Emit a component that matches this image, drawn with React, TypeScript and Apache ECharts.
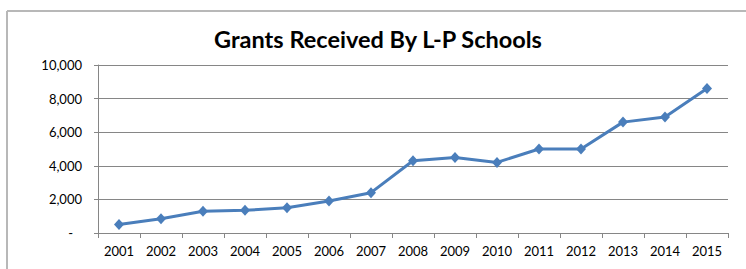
import React, { useEffect, useRef } from "react";
import * as echarts from "echarts";

const years = ["2001","2002","2003","2004","2005","2006","2007","2008","2009","2010","2011","2012","2013","2014","2015"];
const grants = [500, 850, 1300, 1350, 1500, 1900, 2400, 4300, 4500, 4200, 5000, 5000, 6600, 6900, 8600];
const yTicks = { min: 0, max: 10000, interval: 2000 };
const titleText = "Grants Received By L-P Schools";

export default function App() {
  const ref = useRef<HTMLDivElement>(null);
  useEffect(() => {
    if (!ref.current) return;
    const chart = echarts.init(ref.current, undefined, { renderer: "svg" });
    chart.setOption({
      animation: false,
      backgroundColor: "#ffffff",
      grid: { left: 98, right: 18, top: 65, bottom: 36, containLabel: false },
      graphic: [
        { type: "line", shape: { x1: 7, y1: 11, x2: 746, y2: 11 }, style: { stroke: "#b8b8b8", lineWidth: 2 } },
        { type: "line", shape: { x1: 7, y1: 11, x2: 7, y2: 269 }, style: { stroke: "#b8b8b8", lineWidth: 2 } },
        {
          type: "text",
          x: 378,
          y: 39,
          style: {
            text: titleText,
            fontFamily: "Lato",
            fontWeight: "bold",
            fontSize: 23.5,
            fill: "#000000",
            textAlign: "center",
            textVerticalAlign: "middle",
          },
        },
      ],
      xAxis: {
        type: "category",
        data: years,
        boundaryGap: true,
        axisLine: { show: true, lineStyle: { color: "#868686", width: 1 } },
        axisTick: { show: true, length: 5, alignWithLabel: false, lineStyle: { color: "#868686" } },
        axisLabel: { color: "#000000", fontFamily: "Lato", fontSize: 13, margin: 11 },
        splitLine: { show: false },
      },
      yAxis: {
        type: "value",
        min: yTicks.min,
        max: yTicks.max,
        interval: yTicks.interval,
        axisLine: { show: true, lineStyle: { color: "#868686", width: 1 } },
        axisTick: { show: true, length: 4, lineStyle: { color: "#868686" } },
        axisLabel: {
          color: "#000000",
          fontFamily: "Lato",
          fontSize: 13,
          margin: 16,
          formatter: (v: number) => (v === 0 ? "{d|-}" : v.toLocaleString("en-US")),
          rich: { d: { padding: [0, 9, 0, 0], fontFamily: "Lato", fontSize: 13, color: "#000" } },
        },
        splitLine: { show: true, lineStyle: { color: "#868686", width: 1 } },
      },
      series: [
        {
          type: "line",
          data: grants,
          symbol: "diamond",
          symbolSize: [10, 11],
          itemStyle: { color: "#4A7EBB" },
          lineStyle: { color: "#4A7EBB", width: 3 },
        },
      ],
    });
    return () => chart.dispose();
  }, []);
  return <div ref={ref} style={{ position: "fixed", left: 0, top: 0, width: 746, height: 269 }} />;
}
